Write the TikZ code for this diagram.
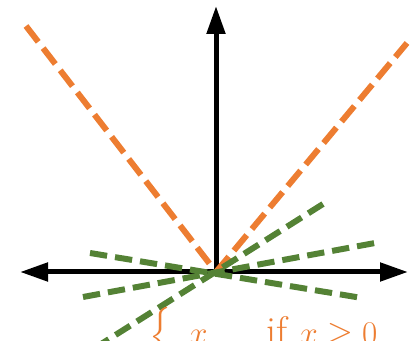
\documentclass[tikz,border=0pt]{standalone}
\usepackage{amsmath}
\usetikzlibrary{arrows.meta}
\definecolor{absorange}{HTML}{ED7D31}
\definecolor{leafgreen}{HTML}{548235}
\tikzset{
  axis/.style={line width=3.75pt},
  absline/.style={absorange, line width=4.5pt, dash pattern=on 15pt off 6pt},
  subgrad/.style={leafgreen, line width=4.5pt, dash pattern=on 13pt off 6pt},
  formula/.style={text=absorange, font=\fontsize{30}{36}\selectfont, inner sep=0pt}
}
\begin{document}
\begin{tikzpicture}[x=0.75pt, y=-0.75pt]
  \useasboundingbox (0,0) rectangle (410,341);
  \clip (0,0) rectangle (410,341);

  % axes
  \coordinate (o) at (216,272);
  \coordinate (xl) at (20,272);
  \coordinate (xr) at (408,272);
  \coordinate (yt) at (216,6);
  \draw[axis, {Triangle[length=21pt,width=13.5pt]}-{Triangle[length=21pt,width=13.5pt]}] (xl) -- (xr);
  \draw[axis, -{Triangle[length=21pt,width=13.5pt]}] (o) -- (yt);

  % |x|
  \coordinate (al) at (26,26);
  \coordinate (ar) at (407,43);
  \draw[absline] (al) -- (o);
  \draw[absline] (o) -- (ar);

  % subgradients at 0
  \coordinate (g1a) at (90,253);
  \coordinate (g1b) at (362,298);
  \coordinate (g2a) at (83,297);
  \coordinate (g2b) at (375,243);
  \coordinate (g3a) at (323,204);
  \coordinate (g3b) at (98,346);
  \draw[subgrad] (g1a) -- (g1b);
  \draw[subgrad] (g2a) -- (g2b);
  \draw[subgrad] (g3a) -- (g3b);

  \node[formula, anchor=base west] (absdef) at (149,345)
    {$\left\{\vphantom{\rule[-14pt]{0pt}{41pt}}\right.\hspace{8pt}x\hspace{44pt}\text{if }x\geq 0$};
\end{tikzpicture}
\end{document}
